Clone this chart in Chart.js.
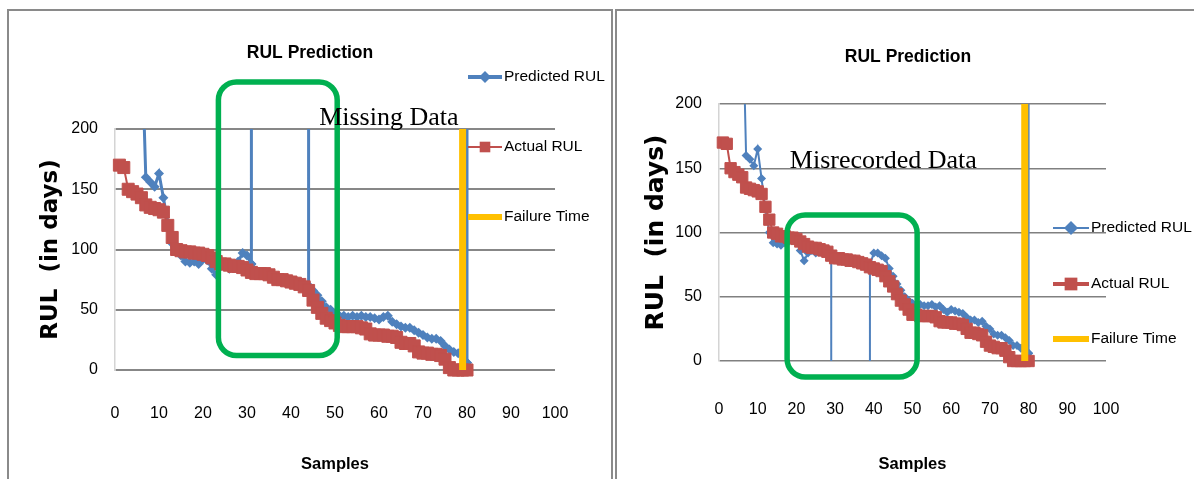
<!DOCTYPE html>
<html>
<head>
<meta charset="utf-8">
<title>RUL Prediction</title>
<script src="https://cdn.jsdelivr.net/npm/chart.js@4.4.1/dist/chart.umd.min.js"></script>
<style>
  body { margin: 0; background: #fff; }
  #page { position: relative; width: 1194px; height: 479px; overflow: hidden; }
  .frame { position: absolute; border: 2px solid #8a8a8a; border-bottom: none; pointer-events: none; }
  #frameLeft { left: 7px; top: 9px; width: 602px; height: 480px; }
  #frameRight { left: 615px; top: 9px; width: 600px; height: 480px; border-right: none; }
  canvas { position: absolute; top: 0; }
  #missingChart { left: 4px; }
  #misrecordedChart { left: 622px; }
</style>
</head>
<body>
<div id="page">
  <canvas id="missingChart" width="612" height="479"></canvas>
  <canvas id="misrecordedChart" width="572" height="479"></canvas>
  <div class="frame" id="frameLeft"></div>
  <div class="frame" id="frameRight"></div>
</div>
<script>
// sample index on the x axis
const samples = Array.from({ length: 80 }, (_, i) => i + 1);
const failureSample = 79;
const failureSpan = [0, 200];

// left chart: predictions with missing data
const predictedMissing = [
  420, 390, 360, 330, 300, 280, 160, 156, 152, 163,
  143, 122, 105, 103, 95, 90, 89, 90, 88, 92,
  91, 84, 79, 86, 88, 84, 87, 90, 97, 95,
  88, 82, 81, 81, 80, 78, 77, 76, 75, 74,
  73, 72, 70, 70, 66, 62, 57, 52, 50, 47,
  45, 45, 44, 45, 44, 45, 44, 44, 43, 42,
  44, 45, 40, 38, 36, 35, 35, 33, 31, 29,
  27, 26, 26, 24, 20, 17, 15, 14, 16, 6
];
const actualMissing = [
  170, 168, 150, 148, 146, 143, 137, 135, 134, 133,
  131, 120, 110, 100, 99, 98, 98, 97, 97, 96,
  95, 93, 90, 88, 88, 87, 86, 86, 85, 83,
  81, 80, 80, 80, 79, 77, 75, 75, 74, 73,
  72, 71, 69, 66, 58, 52, 47, 43, 41, 39,
  37, 36, 36, 36, 36, 35, 34, 30, 29, 29,
  29, 28, 28, 27, 23, 22, 22, 20, 15, 14,
  14, 13, 13, 12, 9, 2, 0, 0, 0, 0
];
const spikeSamplesMissing = [31, 44, 80];
const spikeValuesMissing = [1000, 1000, 1000];

// right chart: predictions with misrecorded data
const predictedMisrecorded = [
  420, 390, 360, 330, 300, 290, 160, 157, 152, 165,
  142, 118, 100, 92, 91, 90, 92, 93, 94, 93,
  86, 78, 84, 86, 84, 85, 84, 83, 82, 82,
  81, 81, 80, 80, 79, 78, 77, 76, 75, 84,
  84, 82, 80, 72, 66, 60, 55, 50, 47, 45,
  43, 44, 43, 43, 44, 42, 43, 40, 38, 40,
  39, 38, 37, 34, 32, 32, 30, 31, 27, 25,
  21, 20, 20, 18, 16, 12, 12, 10, 12, 6
];
const actualMisrecorded = [
  170, 169, 150, 147, 145, 143, 135, 134, 133, 132,
  130, 120, 110, 100, 99, 97, 97, 96, 96, 95,
  93, 91, 89, 88, 88, 87, 86, 85, 82, 80,
  80, 79, 79, 78, 78, 77, 76, 75, 73, 72,
  71, 70, 66, 62, 58, 52, 47, 44, 40, 36,
  36, 35, 35, 35, 35, 34, 31, 30, 30, 30,
  29, 29, 28, 25, 22, 22, 21, 20, 15, 12,
  11, 10, 10, 8, 3, 0, 0, 0, 0, 0
];
const spikeSamplesMisrecorded = [29, 39, 80];
const spikeValuesMisrecorded = [0, 0, 1000];

const BLUE = '#4F81BD';
const RED = '#C0504D';
const GOLD = '#FFC000';
const GREEN = '#00B050';
const SANS = '"Liberation Sans", Arial, sans-serif';

Chart.defaults.font.family = SANS;
Chart.defaults.color = '#000';

// a spike goes straight up (or down) from the sample and comes back
function predictedPoints(values, spikeAt, spikeValues) {
  const pts = [];
  values.forEach((v, i) => {
    const s = samples[i];
    pts.push({ x: s, y: v });
    const k = spikeAt.indexOf(s);
    if (k >= 0) pts.push({ x: s, y: spikeValues[k], spike: true }, { x: s, y: v });
  });
  return pts;
}

// legend sits in its own box on the right, items drawn after the datasets
const sideLegend = {
  id: 'sideLegend',
  beforeInit(chart) {
    const box = {
      position: 'right', weight: 0, fullSize: false, options: {},
      left: 0, top: 0, right: 0, bottom: 0, width: 0, height: 0,
      isHorizontal: () => false,
      update(maxWidth, maxHeight) {
        this.width = chart.options.plugins.sideLegend.width;
        this.height = maxHeight;
      },
      draw() { drawSideLegend(chart, chart.options.plugins.sideLegend); },
      _layers() { return [{ z: 1, draw: () => this.draw() }]; }
    };
    Chart.layouts.addBox(chart, box);
  }
};

function drawSideLegend(chart, o) {
  const ctx = chart.ctx;
  ctx.save();
  ctx.font = o.fontSize + 'px ' + SANS;
  ctx.textBaseline = 'middle';
  chart.data.datasets.forEach((ds, i) => {
    const y = o.rows[i];
    const x1 = o.x + o.lineLength;
    ctx.strokeStyle = ds.borderColor;
    ctx.lineWidth = o.lineWidths[i];
    ctx.beginPath();
    ctx.moveTo(o.x, y);
    ctx.lineTo(x1, y);
    ctx.stroke();
    if (o.markers[i]) {
      ctx.fillStyle = ds.backgroundColor;
      Chart.helpers.drawPoint(ctx, { pointStyle: ds.pointStyle, radius: o.markers[i], borderWidth: 0, rotation: 0 }, o.x + o.lineLength / 2, y);
    }
    ctx.fillStyle = '#000';
    ctx.fillText(ds.label, x1 + 2, y);
  });
  ctx.restore();
}

// green highlight box and its caption, placed in data units
const callout = {
  id: 'callout',
  afterDatasetsDraw(chart, args, o) {
    const { ctx, scales: { x, y } } = chart;
    const left = x.getPixelForValue(o.box[0]);
    const right = x.getPixelForValue(o.box[1]);
    const bottom = y.getPixelForValue(o.box[2]);
    const top = y.getPixelForValue(o.box[3]);
    ctx.save();
    ctx.strokeStyle = GREEN;
    ctx.lineWidth = 5.5;
    ctx.beginPath();
    ctx.roundRect(left, top, right - left, bottom - top, 18);
    ctx.stroke();
    ctx.fillStyle = '#000';
    ctx.font = '26px "Liberation Serif", "Times New Roman", serif';
    ctx.textBaseline = 'alphabetic';
    ctx.fillText(o.text, x.getPixelForValue(o.at[0]), y.getPixelForValue(o.at[1]));
    ctx.restore();
  }
};

function rulChart(id, o) {
  const clip = { left: 8, right: 8, top: 0, bottom: 12 };
  return new Chart(document.getElementById(id), {
    type: 'line',
    data: {
      datasets: [
        {
          label: 'Predicted RUL',
          data: predictedPoints(o.predicted, o.spikeAt, o.spikeValues),
          borderColor: BLUE, backgroundColor: BLUE, borderWidth: o.predWidth,
          pointStyle: 'rectRot', pointBorderWidth: 0,
          pointRadius: c => (c.raw && c.raw.spike ? 0 : o.diamond),
          order: 3, clip
        },
        {
          label: 'Actual RUL',
          data: samples.map((s, i) => ({ x: s, y: o.actual[i] })),
          borderColor: RED, backgroundColor: RED, borderWidth: 2,
          pointStyle: 'rect', pointRadius: o.square, pointBorderWidth: 1,
          order: 2, clip
        },
        {
          label: 'Failure Time',
          data: failureSpan.map(v => ({ x: failureSample, y: v })),
          borderColor: GOLD, backgroundColor: GOLD, borderWidth: 7,
          pointRadius: 0, order: 1, clip
        }
      ]
    },
    options: {
      responsive: false,
      animation: false,
      events: [],
      layout: { padding: 0 },
      plugins: {
        legend: { display: false },
        tooltip: { enabled: false },
        title: {
          display: true, text: 'RUL Prediction', color: '#000',
          font: { size: 17.5, weight: 'bold' },
          padding: { top: o.titleTop, bottom: o.titleBottom }
        },
        sideLegend: o.legend,
        callout: o.callout
      },
      scales: {
        x: {
          type: 'linear', min: 0, max: 100,
          ticks: { stepSize: 10, padding: o.xTickPad, font: { size: 16 }, maxRotation: 0 },
          grid: { display: false, drawTicks: false },
          border: { display: false },
          title: {
            display: true, text: 'Samples',
            font: { size: 16.5, weight: 'bold' },
            padding: { top: 0, bottom: 5 }
          },
          afterFit: s => { s.height = o.xAxisHeight; }
        },
        y: {
          type: 'linear', min: 0, max: 200,
          ticks: { stepSize: 50, padding: 17, font: { size: 16 } },
          grid: { color: o.gridColor, lineWidth: o.gridWidth, drawTicks: false },
          border: { color: '#d4d4d4', width: 1.5 },
          title: {
            display: true, text: 'RUL  (in days)',
            font: { family: 'DejaVu Sans', size: o.yTitleSize, weight: 'bold' },
            padding: { top: o.yTitlePad, bottom: 0 }
          },
          afterFit: s => { s.width = o.yAxisWidth; }
        }
      }
    },
    plugins: [sideLegend, callout]
  });
}

rulChart('missingChart', {
  predicted: predictedMissing, actual: actualMissing,
  spikeAt: spikeSamplesMissing, spikeValues: spikeValuesMissing,
  predWidth: 3, diamond: 5, square: 8.5,
  titleTop: 42.5, titleBottom: 65.5,
  xTickPad: 34, xAxisHeight: 109,
  yAxisWidth: 111, yTitleSize: 23, yTitlePad: 33,
  gridColor: '#878787', gridWidth: 2,
  legend: { width: 61, x: 464, lineLength: 34, rows: [77, 147, 217], lineWidths: [4, 2, 6], markers: [6, 7.5, 0], fontSize: 15.5 },
  callout: { box: [23.5, 50.5, 12, 239], text: 'Missing Data', at: [46.4, 203] }
});

rulChart('misrecordedChart', {
  predicted: predictedMisrecorded, actual: actualMisrecorded,
  spikeAt: spikeSamplesMisrecorded, spikeValues: spikeValuesMisrecorded,
  predWidth: 2, diamond: 4.5, square: 8,
  titleTop: 46.5, titleBottom: 36.5,
  xTickPad: 39, xAxisHeight: 118,
  yAxisWidth: 97, yTitleSize: 25, yTitlePad: 19,
  gridColor: '#808080', gridWidth: 1.5,
  legend: { width: 88, x: 431, lineLength: 36, rows: [228, 284, 339], lineWidths: [2, 4, 6], markers: [7, 9, 0], fontSize: 15.5 },
  callout: { box: [17.6, 51.2, -12.5, 113.6], text: 'Misrecorded Data', at: [18.3, 150] }
});
</script>
</body>
</html>
